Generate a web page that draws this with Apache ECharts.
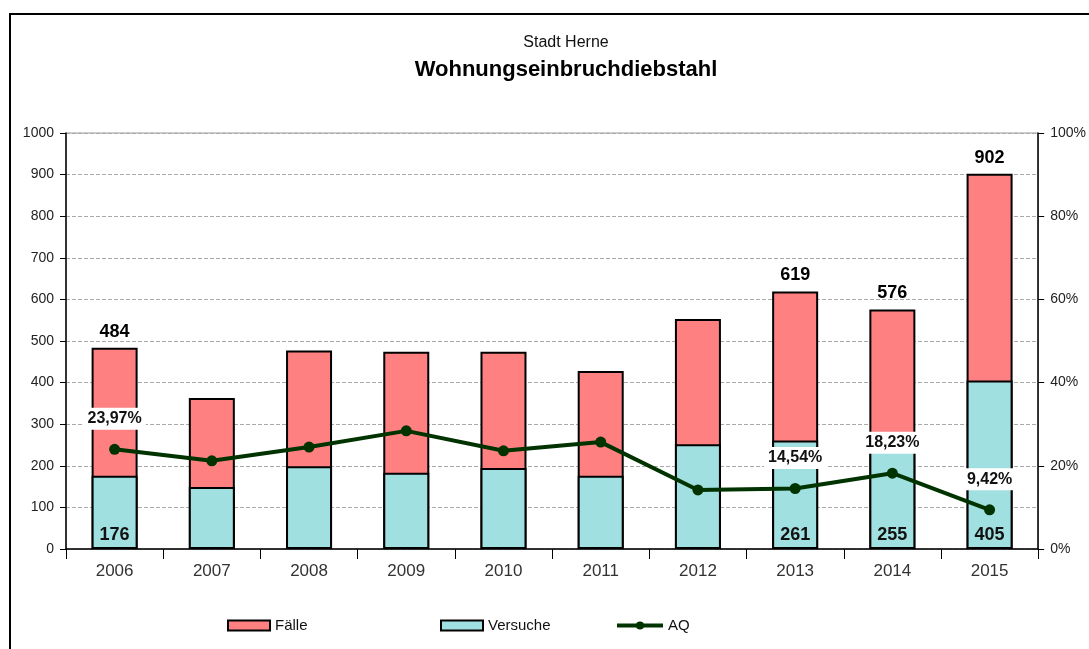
<!DOCTYPE html>
<html>
<head>
<meta charset="UTF-8">
<script src="https://cdn.jsdelivr.net/npm/echarts@6/dist/echarts.min.js"></script>
<style>
html, body { margin: 0; padding: 0; background: #fff; }
#main { width: 1089px; height: 649px; }
</style>
</head>
<body>
<div id="main"></div>
<script type="text/javascript">
// Werte
var years = ['2006', '2007', '2008', '2009', '2010', '2011', '2012', '2013', '2014', '2015'];
var faelle = [484, 363, 477, 474, 474, 428, 553, 619, 576, 902];
var versuche = [176, 149, 199, 183, 195, 176, 252, 261, 255, 405];
var aq = [23.97, 21.2, 24.5, 28.4, 23.6, 25.7, 14.2, 14.54, 18.23, 9.42];
// nur diese Jahre sind im Original beschriftet
var labelYears = ['2006', '2013', '2014', '2015'];

var myChart = echarts.init(document.getElementById('main'));

function withLabels(values) {
    return values.map(function (v, i) {
        return { value: v, label: { show: labelYears.indexOf(years[i]) >= 0 } };
    });
}

var font = 'Liberation Sans, Arial, sans-serif';

var option = {
    animation: false,
    textStyle: { fontFamily: font },
    title: [
        {
            text: 'Stadt Herne',
            left: 561, top: 30, textAlign: 'center',
            textStyle: { fontSize: 16, fontWeight: 'normal', color: '#111', fontFamily: font }
        },
        {
            text: 'Wohnungseinbruchdiebstahl',
            left: 561, top: 54, textAlign: 'center',
            textStyle: { fontSize: 22, fontWeight: 'bold', color: '#000', fontFamily: font }
        }
    ],
    graphic: [{
        type: 'rect',
        shape: { x: 10, y: 14, width: 1200, height: 800 },
        style: { fill: 'none', stroke: '#000', lineWidth: 2 },
        silent: true
    }],
    legend: [
        {
            data: ['Fälle'], left: 222, top: 613, icon: 'rect', itemWidth: 42, itemHeight: 10, itemGap: 4,
            textStyle: { fontSize: 15, color: '#111', fontFamily: font }
        },
        {
            data: ['Versuche'], left: 435, top: 613, icon: 'rect', itemWidth: 42, itemHeight: 10,
            textStyle: { fontSize: 15, color: '#111', fontFamily: font }
        },
        {
            data: ['AQ'], left: 610, top: 613, itemWidth: 46, itemHeight: 10,
            lineStyle: { width: 4 },
            textStyle: { fontSize: 15, color: '#111', fontFamily: font }
        }
    ],
    grid: {
        left: 66, right: 49, top: 133, bottom: 100,
        show: true, borderColor: '#999', borderWidth: 1
    },
    xAxis: {
        type: 'category',
        data: years,
        axisLine: { lineStyle: { color: '#000', width: 1.5 } },
        axisTick: { show: true, length: 10, inside: false, lineStyle: { color: '#000' } },
        axisLabel: { fontSize: 17, color: '#333', margin: 14 }
    },
    yAxis: [
        {
            type: 'value', min: 0, max: 1000, interval: 100,
            axisLine: { show: true, lineStyle: { color: '#000', width: 1.5 } },
            axisTick: { show: true, length: 6, lineStyle: { color: '#000' } },
            axisLabel: { fontSize: 14, color: '#222', margin: 12, formatter: function (v) { return String(v); } },
            splitLine: { lineStyle: { type: 'dashed', color: '#aaa' } }
        },
        {
            type: 'value', min: 0, max: 100, interval: 20,
            axisLine: { show: true, lineStyle: { color: '#000', width: 1.5 } },
            axisTick: { show: true, length: 6, lineStyle: { color: '#000' } },
            axisLabel: { fontSize: 14, color: '#222', margin: 12, formatter: '{value}%' },
            splitLine: { show: false }
        }
    ],
    series: [
        {
            name: 'Fälle',
            type: 'bar',
            barWidth: 46,
            barGap: '-100%',
            itemStyle: { color: '#FF8080', borderColor: '#000', borderWidth: 2 },
            label: { position: 'top', distance: 7, fontSize: 18, fontWeight: 'bold', color: '#000' },
            data: withLabels(faelle)
        },
        {
            name: 'Versuche',
            type: 'bar',
            barWidth: 46,
            barGap: '-100%',
            itemStyle: { color: '#A0E0E0', borderColor: '#000', borderWidth: 2 },
            label: { position: 'insideBottom', distance: 5, fontSize: 18, fontWeight: 'bold', color: '#111' },
            data: withLabels(versuche)
        },
        {
            name: 'AQ',
            type: 'line',
            yAxisIndex: 1,
            z: 5,
            symbol: 'circle',
            symbolSize: 11,
            lineStyle: { color: '#003300', width: 4 },
            itemStyle: { color: '#003300' },
            label: {
                position: 'top', distance: 14,
                fontSize: 16, fontWeight: 'bold', color: '#111',
                backgroundColor: '#fff', padding: [3, 4],
                formatter: function (p) { return p.value.toFixed(2).replace('.', ',') + '%'; }
            },
            data: withLabels(aq)
        }
    ]
};

myChart.setOption(option);
</script>
</body>
</html>
